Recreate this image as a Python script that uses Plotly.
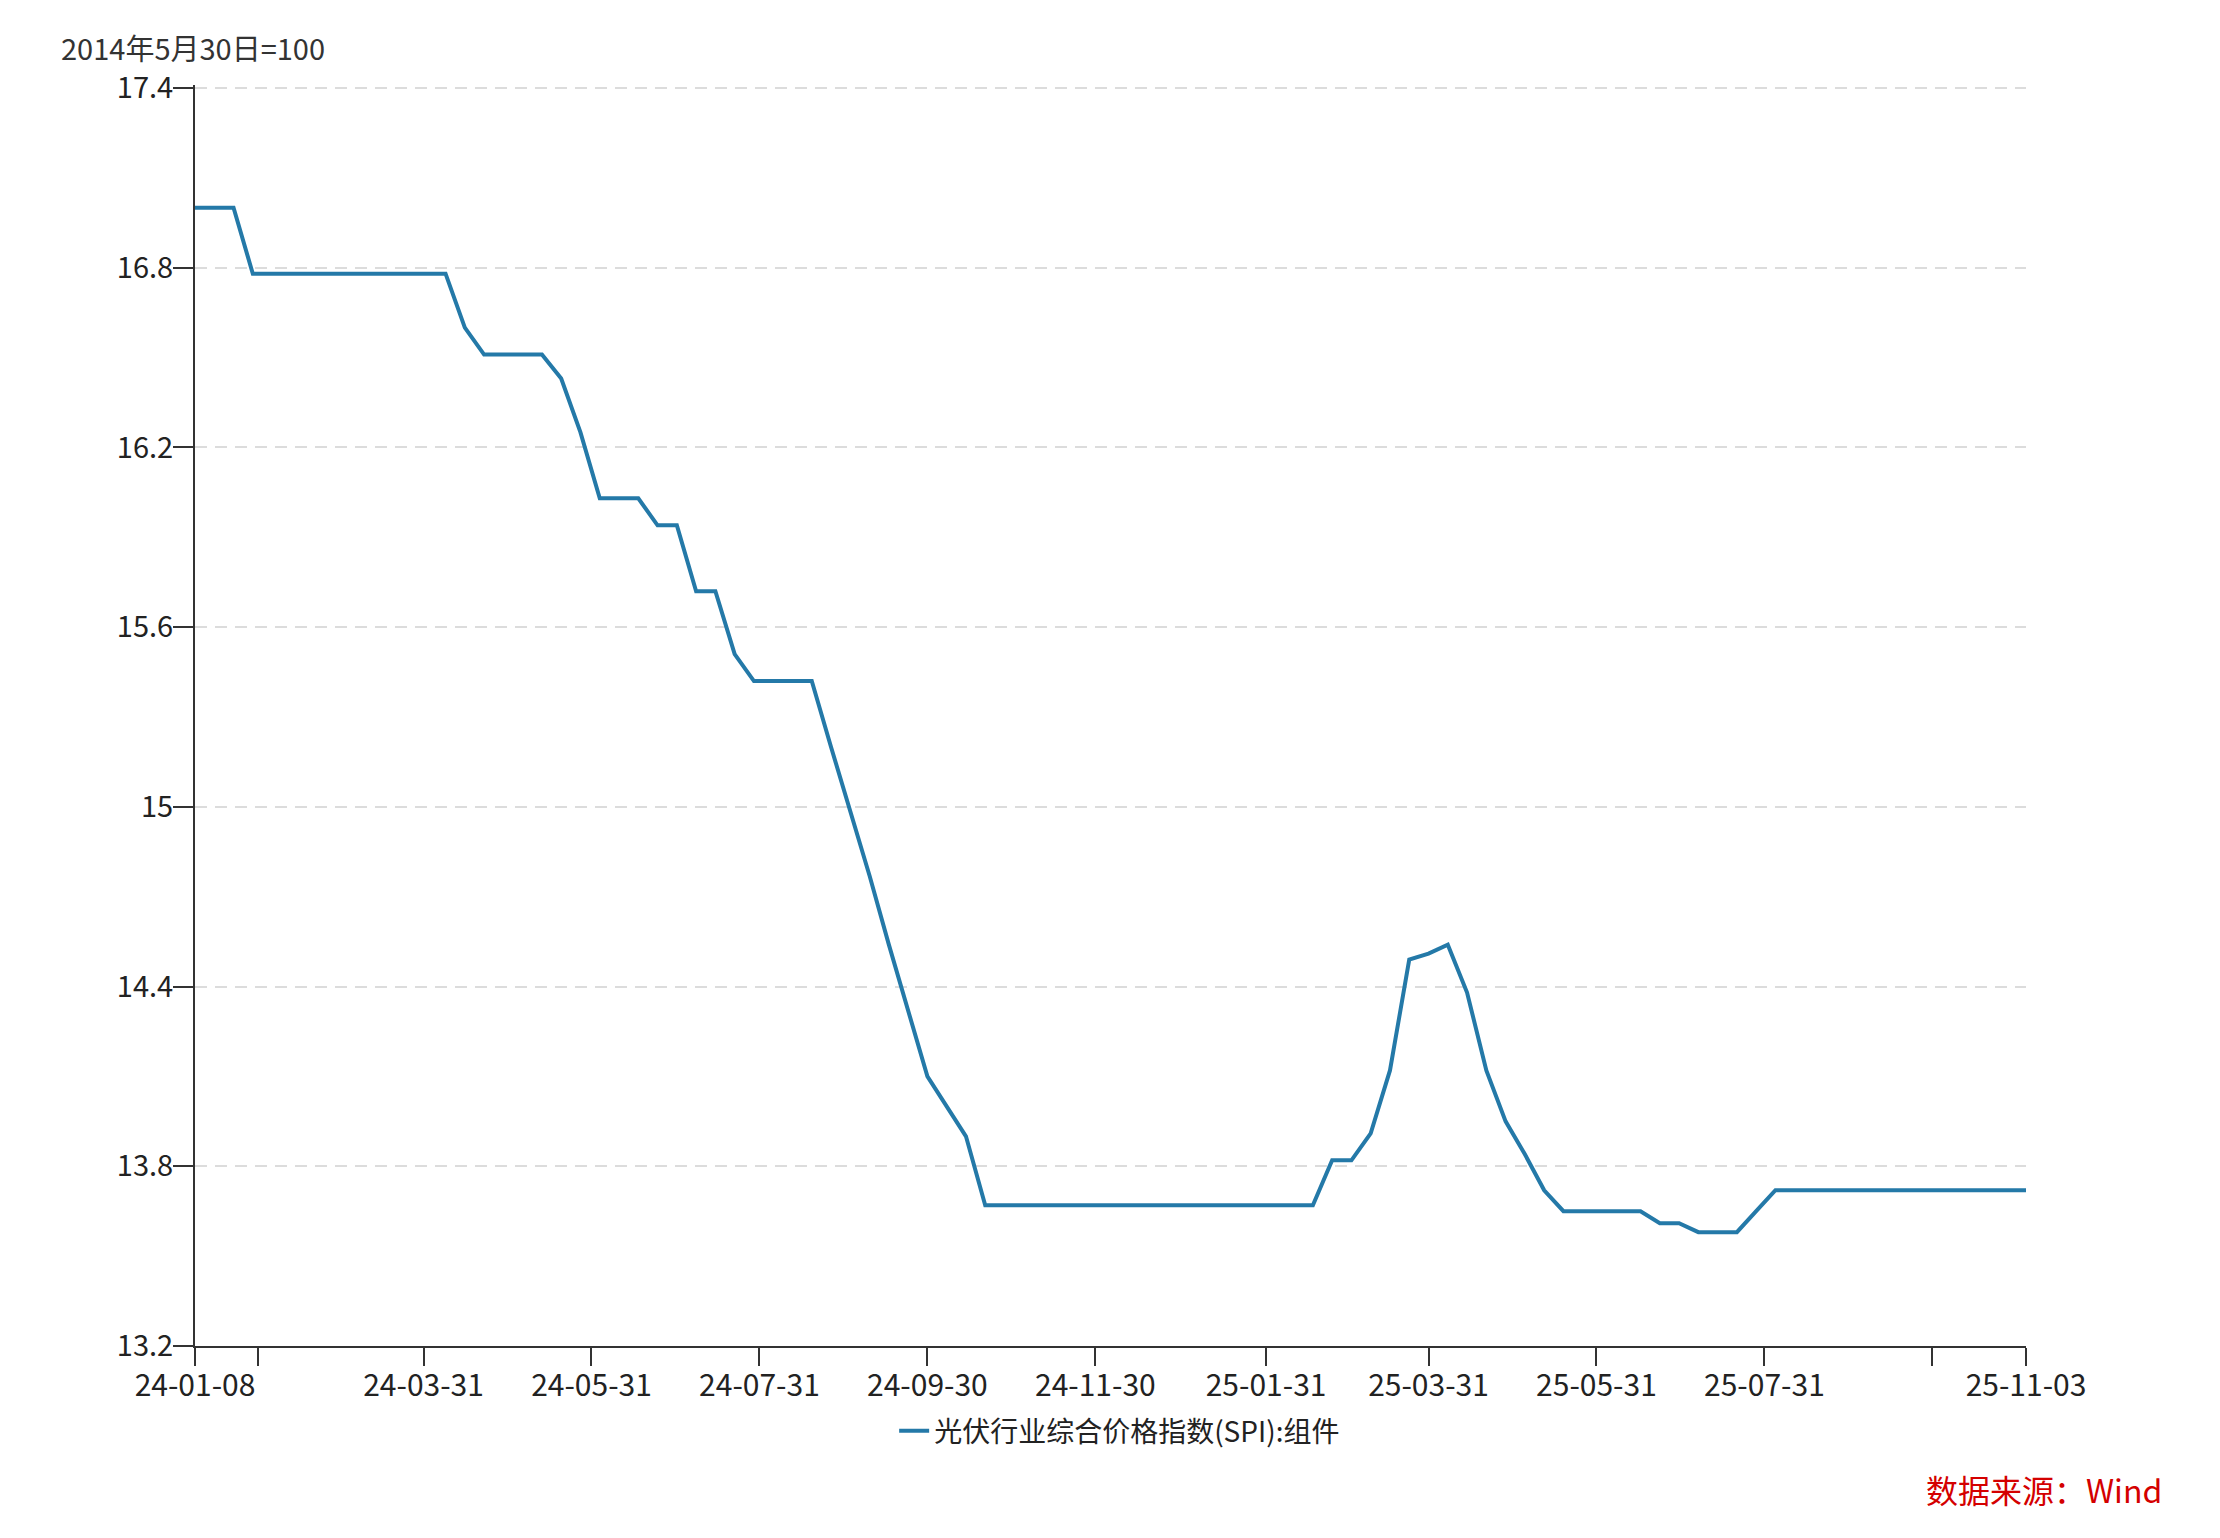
import plotly.graph_objects as go

dates = [
    "2024-01-08", "2024-01-15", "2024-01-22", "2024-01-29", "2024-02-05", "2024-02-12", "2024-02-19", "2024-02-26",
    "2024-03-04", "2024-03-11", "2024-03-18", "2024-03-25", "2024-04-01", "2024-04-08", "2024-04-15", "2024-04-22",
    "2024-04-29", "2024-05-06", "2024-05-13", "2024-05-20", "2024-05-27", "2024-06-03", "2024-06-10", "2024-06-17",
    "2024-06-24", "2024-07-01", "2024-07-08", "2024-07-15", "2024-07-22", "2024-07-29", "2024-08-05", "2024-08-12",
    "2024-08-19", "2024-08-26", "2024-09-02", "2024-09-09", "2024-09-16", "2024-09-23", "2024-09-30", "2024-10-07",
    "2024-10-14", "2024-10-21", "2024-10-28", "2024-11-04", "2024-11-11", "2024-11-18", "2024-11-25", "2024-12-02",
    "2024-12-09", "2024-12-16", "2024-12-23", "2024-12-30", "2025-01-06", "2025-01-13", "2025-01-20", "2025-01-27",
    "2025-02-03", "2025-02-10", "2025-02-17", "2025-02-24", "2025-03-03", "2025-03-10", "2025-03-17", "2025-03-24",
    "2025-03-31", "2025-04-07", "2025-04-14", "2025-04-21", "2025-04-28", "2025-05-05", "2025-05-12", "2025-05-19",
    "2025-05-26", "2025-06-02", "2025-06-09", "2025-06-16", "2025-06-23", "2025-06-30", "2025-07-07", "2025-07-14",
    "2025-07-21", "2025-07-28", "2025-08-04", "2025-08-11", "2025-08-18", "2025-08-25", "2025-09-01", "2025-09-08",
    "2025-09-15", "2025-09-22", "2025-09-29", "2025-10-06", "2025-10-13", "2025-10-20", "2025-10-27", "2025-11-03",
]

spi_module = [
    17.00, 17.00, 17.00, 16.78, 16.78, 16.78, 16.78, 16.78,
    16.78, 16.78, 16.78, 16.78, 16.78, 16.78, 16.60, 16.51,
    16.51, 16.51, 16.51, 16.43, 16.25, 16.03, 16.03, 16.03,
    15.94, 15.94, 15.72, 15.72, 15.51, 15.42, 15.42, 15.42,
    15.42, 15.20, 14.99, 14.77, 14.54, 14.32, 14.10, 14.00,
    13.90, 13.67, 13.67, 13.67, 13.67, 13.67, 13.67, 13.67,
    13.67, 13.67, 13.67, 13.67, 13.67, 13.67, 13.67, 13.67,
    13.67, 13.67, 13.67, 13.82, 13.82, 13.91, 14.12, 14.49,
    14.51, 14.54, 14.38, 14.12, 13.95, 13.84, 13.72, 13.65,
    13.65, 13.65, 13.65, 13.65, 13.61, 13.61, 13.58, 13.58,
    13.58, 13.65, 13.72, 13.72, 13.72, 13.72, 13.72, 13.72,
    13.72, 13.72, 13.72, 13.72, 13.72, 13.72, 13.72, 13.72,
]

series_name = "光伏行业综合价格指数(SPI):组件"

x_tickvals = ["2024-01-08", "2024-01-31", "2024-03-31", "2024-05-31", "2024-07-31", "2024-09-30",
              "2024-11-30", "2025-01-31", "2025-03-31", "2025-05-31", "2025-07-31", "2025-09-30", "2025-11-03"]
x_ticktext = ["24-01-08", "", "24-03-31", "24-05-31", "24-07-31", "24-09-30",
              "24-11-30", "25-01-31", "25-03-31", "25-05-31", "25-07-31", "", "25-11-03"]

y_tickvals = [13.2, 13.8, 14.4, 15.0, 15.6, 16.2, 16.8, 17.4]
y_ticktext = ["13.2", "13.8", "14.4", "15", "15.6", "16.2", "16.8", "17.4"]

FONT = "Noto Sans CJK SC, Microsoft YaHei, sans-serif"

fig = go.Figure()
fig.add_trace(go.Scatter(
    x=dates, y=spi_module, mode="lines", name=series_name,
    line=dict(color="#2479a8", width=4),
))

fig.update_layout(
    width=2212, height=1530,
    margin=dict(l=187, r=194, t=77, b=192),
    paper_bgcolor="white", plot_bgcolor="white",
    font=dict(family=FONT, size=29, color="#222"),
    showlegend=True,
    legend=dict(orientation="h", x=0.505, xanchor="center", y=-0.0674, yanchor="middle",
                font=dict(size=28, color="#222")),
    xaxis=dict(
        type="date", range=["2024-01-08", "2025-11-03"],
        tickmode="array", tickvals=x_tickvals, ticktext=x_ticktext,
        showgrid=False, zeroline=False,
        showline=True, linecolor="#333", linewidth=2,
        ticks="outside", ticklen=18, tickwidth=2, tickcolor="#333",
        tickfont=dict(size=30, color="#222"), ticklabelstandoff=-6,
    ),
    yaxis=dict(
        range=[13.2, 17.41],
        tickmode="array", tickvals=y_tickvals, ticktext=y_ticktext,
        showgrid=True, gridcolor="#dcdcdc", gridwidth=2, griddash="12px,8px",
        zeroline=False,
        showline=True, linecolor="#333", linewidth=2,
        ticks="outside", ticklen=20, tickwidth=2, tickcolor="#333",
        tickfont=dict(size=29, color="#222"), ticklabelstandoff=-6,
    ),
    annotations=[
        dict(text="2014年5月30日=100", xref="paper", yref="paper", x=-0.0743, y=1.0301,
             xanchor="left", yanchor="middle", showarrow=False,
             font=dict(size=29, color="#333", family=FONT)),
        dict(text="数据来源：Wind", xref="paper", yref="paper", x=1.0754, y=-0.1134,
             xanchor="right", yanchor="middle", showarrow=False,
             font=dict(size=32, color="#d40000", family=FONT)),
    ],
)

fig.write_html("out.html")
